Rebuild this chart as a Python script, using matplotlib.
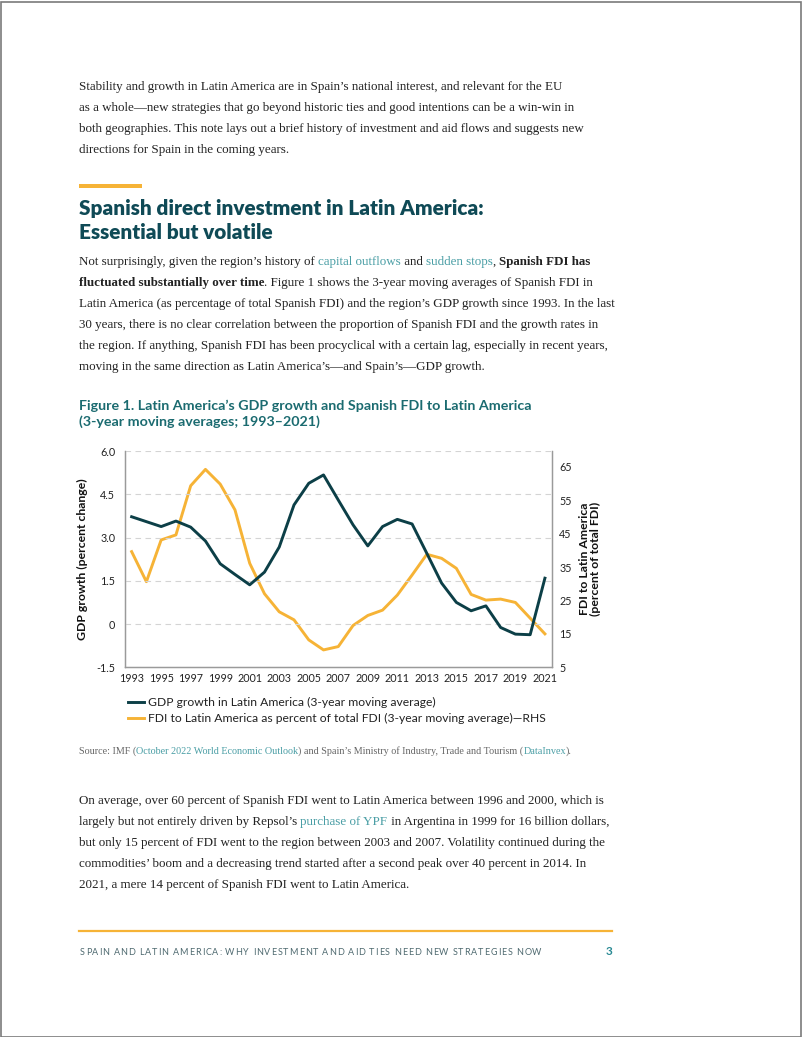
import matplotlib
matplotlib.use("Agg")
import matplotlib.pyplot as plt
from matplotlib.font_manager import FontProperties
from matplotlib.lines import Line2D
from matplotlib.patches import Rectangle

W, H = 802, 1037

years = list(range(1993, 2022))
gdp = [3.72, 3.55, 3.38, 3.57, 3.36, 2.88, 2.09, 1.72, 1.36, 1.80,
       2.67, 4.13, 4.88, 5.17, 4.30, 3.44, 2.71, 3.38, 3.63, 3.47,
       2.45, 1.42, 0.75, 0.46, 0.63, -0.12, -0.35, -0.37, 1.59]
fdi = [39.6, 30.6, 43.1, 44.6, 59.3, 64.2, 59.8, 52.1, 36.1, 27.0,
       21.6, 19.2, 13.2, 10.2, 11.2, 17.5, 20.5, 22.1, 26.6, 32.6,
       38.8, 37.6, 34.6, 26.8, 25.1, 25.4, 24.4, 19.7, 15.0]
xticks = list(range(1993, 2022, 2))
left_ticks = [-1.5, 0, 1.5, 3.0, 4.5, 6.0]
left_labels = ["-1.5", "0", "1.5", "3.0", "4.5", "6.0"]
right_ticks = [5, 15, 25, 35, 45, 55, 65]
legend_labels = ["GDP growth in Latin America (3-year moving average)",
                 "FDI to Latin America as percent of total FDI (3-year moving average)\u2014RHS"]

# colours
TEAL_DARK = "#0c3f47"
GOLD = "#f6b336"
HEAD = "#0f4a56"
TITLE = "#1b6b70"
LINK = "#4a9ea5"
BODY = "#222222"
SERIF = "Liberation Serif"
SANS = "Lato"

fig = plt.figure(figsize=(W / 100, H / 100), dpi=100)
renderer = fig.canvas.get_renderer()


def fp(family, size, weight="normal"):
    return FontProperties(family=family, size=size, weight=weight)


def adv(s, prop):
    # advance width in px, spaces included
    w1 = renderer.get_text_width_height_descent("|" + s + "|", prop, ismath=False)[0]
    w0 = renderer.get_text_width_height_descent("||", prop, ismath=False)[0]
    return w1 - w0


def fit(s, family, weight, target):
    return 10 * target / adv(s, fp(family, 10, weight))


def put_line(y, segs, size, x=79, family=SERIF):
    for s, kind in segs:
        weight = "bold" if kind == "b" else "normal"
        color = LINK if kind == "l" else BODY
        prop = fp(family, size, weight)
        fig.text(x / W, 1 - y / H, s, fontproperties=prop, color=color,
                 ha="left", va="baseline")
        x += adv(s, prop)


body_size = fit("the region. If anything, Spanish FDI has been procyclical with a certain lag, especially in recent years,",
                SERIF, "normal", 533)

para1 = ["Stability and growth in Latin America are in Spain\u2019s national interest, and relevant for the EU",
         "as a whole\u2014new strategies that go beyond historic ties and good intentions can be a win-win in",
         "both geographies. This note lays out a brief history of investment and aid flows and suggests new",
         "directions for Spain in the coming years."]
for i, ln in enumerate(para1):
    put_line(90 + 21 * i, [(ln, "n")], body_size)

# gold rule + heading
fig.add_artist(Rectangle((79 / W, 1 - 188 / H), 63 / W, 4 / H, transform=fig.transFigure,
                         color=GOLD, lw=0))
head_size = fit("Spanish direct investment in Latin America:", SANS, "heavy", 405)
fig.text(79 / W, 1 - 215 / H, "Spanish direct investment in Latin America:", color=HEAD,
         fontproperties=fp(SANS, head_size, "heavy"), va="baseline")
fig.text(79 / W, 1 - 239 / H, "Essential but volatile", color=HEAD,
         fontproperties=fp(SANS, head_size, "heavy"), va="baseline")

para2 = [
    [("Not surprisingly, given the region\u2019s history of ", "n"), ("capital outflows", "l"),
     (" and ", "n"), ("sudden stops", "l"), (", ", "n"), ("Spanish FDI has", "b")],
    [("fluctuated substantially over time", "b"),
     (". Figure 1 shows the 3-year moving averages of Spanish FDI in", "n")],
    [("Latin America (as percentage of total Spanish FDI) and the region\u2019s GDP growth since 1993. In the last", "n")],
    [("30 years, there is no clear correlation between the proportion of Spanish FDI and the growth rates in", "n")],
    [("the region. If anything, Spanish FDI has been procyclical with a certain lag, especially in recent years,", "n")],
    [("moving in the same direction as Latin America\u2019s\u2014and Spain\u2019s\u2014GDP growth.", "n")],
]
for i, segs in enumerate(para2):
    put_line(265 + 21 * i, segs, body_size)

# figure title
title_size = fit("Figure 1. Latin America\u2019s GDP growth and Spanish FDI to Latin America", SANS, "bold", 452)
fig.text(79 / W, 1 - 410 / H, "Figure 1. Latin America\u2019s GDP growth and Spanish FDI to Latin America",
         color=TITLE, fontproperties=fp(SANS, title_size, "bold"), va="baseline")
fig.text(79 / W, 1 - 426 / H, "(3-year moving averages; 1993\u20132021)",
         color=TITLE, fontproperties=fp(SANS, title_size, "bold"), va="baseline")

# chart
ax = fig.add_axes([125 / W, 1 - 667.3 / H, 427.3 / W, 216.3 / H])
ax2 = ax.twinx()
ax.set_zorder(ax2.get_zorder() + 1)
ax.patch.set_visible(False)

tick_size = fit("1993", SANS, "normal", 25)
l1, = ax.plot(years, gdp, color=TEAL_DARK, lw=2.1, solid_joinstyle="round", zorder=3)
l2, = ax2.plot(years, fdi, color=GOLD, lw=2.1, solid_joinstyle="round")

ax.set_xlim(1992.55, 2021.5)
ax.set_ylim(-1.5, 6.0)
ax2.set_ylim(5, 69.7)
ax.set_xticks(xticks)
ax.set_xticklabels([str(y) for y in xticks])
ax.set_yticks(left_ticks)
ax.set_yticklabels(left_labels)
ax2.set_yticks(right_ticks)
ax.yaxis.grid(True, color="#d4d4d4", ls=(0, (5, 4)), lw=0.8)
ax.set_axisbelow(True)

for a in (ax, ax2):
    a.spines["top"].set_visible(False)
    for side in ("left", "right", "bottom"):
        a.spines[side].set_color("#9a9a9a")
        a.spines[side].set_linewidth(0.9)
    a.tick_params(length=0, labelsize=tick_size, labelcolor="#222222")
    for lab in a.get_xticklabels() + a.get_yticklabels():
        lab.set_fontfamily(SANS)
ax.tick_params(axis="y", pad=7)
ax.tick_params(axis="x", pad=4)
ax2.tick_params(axis="y", pad=5)

lab_size = fit("GDP growth (percent change)", SANS, "bold", 162)
ax.set_ylabel("GDP growth (percent change)", fontproperties=fp(SANS, lab_size, "bold"),
              color="#111111", labelpad=6)
ax2.set_ylabel("FDI to Latin America\n(percent of total FDI)", fontproperties=fp(SANS, lab_size, "bold"),
               color="#111111", labelpad=5, linespacing=1.0)

leg_size = fit(legend_labels[1], SANS, "normal", 398)
leg = ax.legend([l1, l2], legend_labels, loc="upper left",
                bbox_to_anchor=(128 / W, 1 - 697 / H), bbox_transform=fig.transFigure,
                frameon=False, prop=fp(SANS, leg_size), handlelength=1.35,
                handletextpad=0.3, borderpad=0, borderaxespad=0, labelspacing=0.4)
for t in leg.get_texts():
    t.set_color("#222222")

# source
src_size = fit("Source: IMF (October 2022 World Economic Outlook) and Spain\u2019s Ministry of Industry, Trade and Tourism (DataInvex).",
               SERIF, "normal", 489)
x = 79
for s, kind in [("Source: IMF (", "n"), ("October 2022 World Economic Outlook", "l"),
                (") and Spain\u2019s Ministry of Industry, Trade and Tourism (", "n"),
                ("DataInvex", "l"), (").", "n")]:
    prop = fp(SERIF, src_size)
    fig.text(x / W, 1 - 754 / H, s, fontproperties=prop,
             color=(LINK if kind == "l" else "#666666"), va="baseline")
    x += adv(s, prop)

para3 = [
    [("On average, over 60 percent of Spanish FDI went to Latin America between 1996 and 2000, which is", "n")],
    [("largely but not entirely driven by Repsol\u2019s ", "n"), ("purchase of YPF", "l"),
     (" in Argentina in 1999 for 16 billion dollars,", "n")],
    [("but only 15 percent of FDI went to the region between 2003 and 2007. Volatility continued during the", "n")],
    [("commodities\u2019 boom and a decreasing trend started after a second peak over 40 percent in 2014. In", "n")],
    [("2021, a mere 14 percent of Spanish FDI went to Latin America.", "n")],
]
for i, segs in enumerate(para3):
    put_line(804 + 21 * i, segs, body_size)

# footer
fig.add_artist(Line2D([79 / W, 612 / W], [1 - 930.5 / H] * 2, transform=fig.transFigure,
                      color=GOLD, lw=1.6))
footer = "SPAIN AND LATIN AMERICA: WHY INVESTMENT AND AID TIES NEED NEW STRATEGIES NOW"
track = 0.9
glyphs10 = sum(adv(ch, fp(SANS, 10)) for ch in footer)
foot_prop = fp(SANS, 10 * (460 - track * len(footer)) / glyphs10)
x = 80
for ch in footer:
    fig.text(x / W, 1 - 955 / H, ch, fontproperties=foot_prop, color="#4f6a70", va="baseline")
    x += adv(ch, foot_prop) + track
fig.text(612 / W, 1 - 955 / H, "3", fontproperties=fp(SANS, 8.5, "bold"), color="#2a8a94",
         ha="right", va="baseline")

# page border
fig.add_artist(Rectangle((0.5 / W, 0.5 / H), (W - 2) / W, (H - 2) / H, transform=fig.transFigure,
                         fill=False, ec="#7a7a7a", lw=1.2))

fig.savefig("out.png", dpi=100, facecolor="white")
